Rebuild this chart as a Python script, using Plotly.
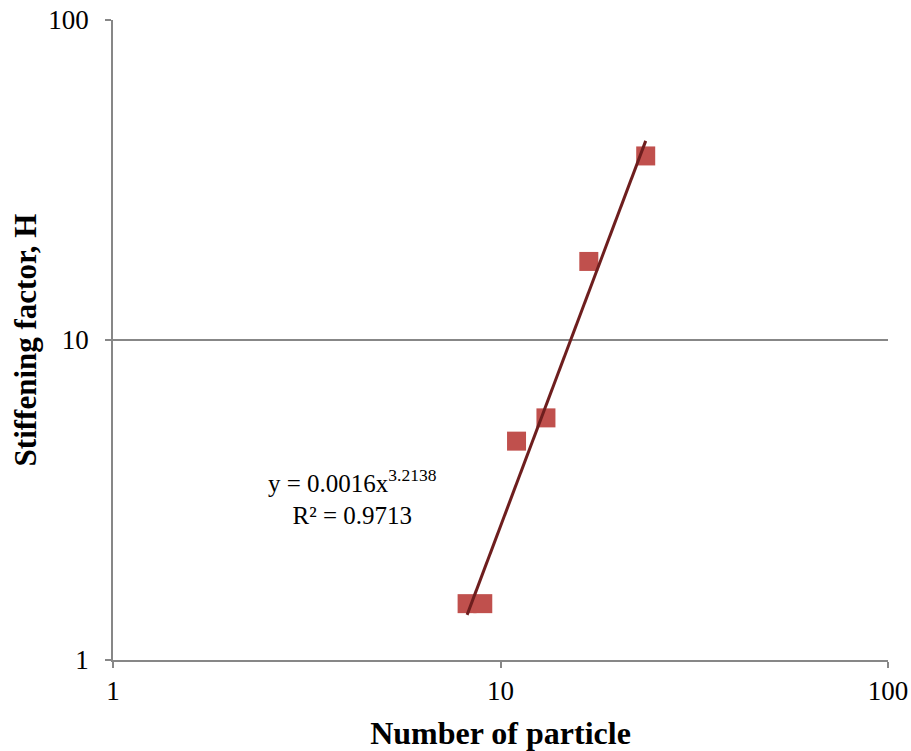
import numpy as np
import plotly.graph_objects as go

particles = [8.2, 9.0, 11.0, 13.1, 16.9, 23.7]
stiffening = [1.5, 1.5, 4.83, 5.71, 17.6, 37.6]
fit_a = 0.0016
fit_b = 3.2138
fit_r2 = 0.9713
x_ticks = [1, 10, 100]
y_ticks = [1, 10, 100]

xf = np.geomspace(min(particles), max(particles), 50)
yf = fit_a * xf ** fit_b

font_family = "Liberation Serif, Times New Roman, serif"

fig = go.Figure()
fig.add_trace(go.Scatter(x=particles, y=stiffening, mode="markers",
                         marker=dict(symbol="square", size=19, color="#C0504D",
                                     line=dict(width=0)),
                         showlegend=False))
fig.add_trace(go.Scatter(x=xf, y=yf, mode="lines",
                         line=dict(color="#6E1E1E", width=3),
                         showlegend=False))

fig.add_annotation(x=np.log10(4.15), y=np.log10(3.22), xref="x", yref="y",
                   text=f"y = {fit_a}x<sup>{fit_b}</sup><br>R² = {fit_r2}",
                   showarrow=False, align="center",
                   font=dict(family=font_family, size=25, color="black"))

axis_common = dict(type="log", showline=True, linecolor="#878787", linewidth=1.5,
                   ticks="outside", ticklen=6, tickcolor="#878787", tickwidth=1.5,
                   tickfont=dict(family=font_family, size=27, color="black"),
                   zeroline=False, automargin=False)

fig.update_xaxes(range=[0, 2], tickvals=x_ticks, ticktext=[str(v) for v in x_ticks],
                 showgrid=False, mirror=False,
                 title=dict(text="<b>Number of particle</b>",
                            font=dict(family=font_family, size=32, color="black"),
                            standoff=16),
                 **axis_common)
fig.update_yaxes(range=[0, 2], tickvals=y_ticks, ticktext=[str(v) for v in y_ticks],
                 showgrid=True, gridcolor="#878787", gridwidth=1.5,
                 ticklabelstandoff=11,
                 title=dict(text="<b>Stiffening factor, H</b>",
                            font=dict(family=font_family, size=31, color="black"),
                            standoff=2),
                 **axis_common)

fig.update_layout(width=911, height=751, plot_bgcolor="white", paper_bgcolor="white",
                  margin=dict(l=113, r=23, t=20, b=91))

fig.write_html("out.html")
